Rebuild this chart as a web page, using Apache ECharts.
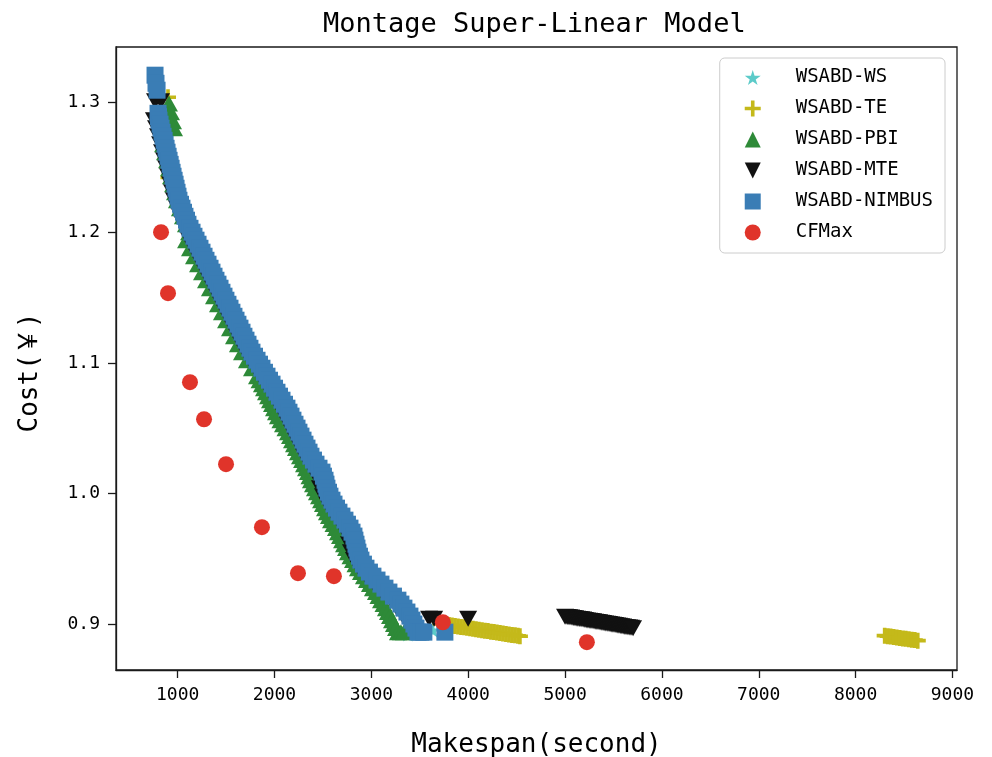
<!DOCTYPE html>
<html><head><meta charset="utf-8">
<script src="https://cdn.jsdelivr.net/npm/echarts@6/dist/echarts.min.js"></script>
<style>html,body{margin:0;padding:0;background:#fff}#c{width:992px;height:757px}</style>
</head><body><div id="c"></div>
<script>
const F = "'DejaVu Sans Mono','Noto Sans CJK SC',monospace";
const seriesNames = ['WSABD-WS','WSABD-TE','WSABD-PBI','WSABD-MTE','WSABD-NIMBUS','CFMax'];
const xTicks = [1000,2000,3000,4000,5000,6000,7000,8000,9000];
const yTicks = [0.9,1.0,1.1,1.2,1.3];

const wsData = [[787,1.3090],[870,1.2676],[993,1.2308],[1189,1.1941],[1395,1.1634],[1602,1.1328],[1819,1.1021],[2077,1.0715],[2294,1.0409],[2521,1.0102],[2727,0.9796],[2892,0.9490],[3181,0.9245],[3377,0.8923],[3635,0.8953]];

const teData = [[900,1.3036],[905,1.2422],
[3708,0.9004],[3739,0.9000],[3770,0.8996],[3801,0.8993],[3832,0.8989],[3863,0.8985],[3894,0.8982],[3925,0.8978],[3956,0.8975],[3987,0.8971],[4018,0.8968],[4049,0.8964],[4079,0.8960],[4110,0.8957],[4141,0.8953],[4172,0.8949],[4203,0.8946],[4234,0.8942],[4265,0.8939],[4296,0.8935],[4327,0.8931],[4358,0.8928],[4389,0.8924],[4420,0.8920],[4451,0.8917],[4482,0.8914],[4513,0.8910],[4534,0.8907],
[8300,0.8911],[8331,0.8907],[8362,0.8904],[8393,0.8900],[8425,0.8897],[8456,0.8893],[8487,0.8890],[8518,0.8887],[8549,0.8883],[8580,0.8880],[8611,0.8877],[8642,0.8873]];

const pbiData = [[910,1.2989],[931,1.2921],[952,1.2852],[962,1.2799],
[849,1.2676],[869,1.2615],[890,1.2553],[911,1.2492],[931,1.2431],[952,1.2370],[972,1.2308],[992,1.2247],[1023,1.2186],[1054,1.2124],[1085,1.2063],[1117,1.2002],
[1086,1.1941],[1127,1.1879],[1168,1.1818],[1210,1.1757],[1251,1.1696],[1292,1.1634],[1333,1.1573],[1375,1.1512],[1416,1.1450],[1457,1.1389],[1499,1.1328],[1540,1.1267],[1581,1.1205],[1622,1.1144],[1664,1.1083],[1715,1.1021],[1767,1.0960],
[1819,1.0899],[1845,1.0868],[1870,1.0838],[1891,1.0807],[1912,1.0776],[1933,1.0746],[1953,1.0715],[1974,1.0685],[1994,1.0654],[2015,1.0623],[2035,1.0593],[2061,1.0562],[2087,1.0531],[2113,1.0501],[2139,1.0470],[2160,1.0440],[2180,1.0409],[2201,1.0378],[2221,1.0348],[2242,1.0317],[2263,1.0286],[2284,1.0256],[2304,1.0225],[2325,1.0194],[2345,1.0164],[2361,1.0133],[2376,1.0102],[2397,1.0072],[2417,1.0041],[2438,1.0010],[2459,0.9980],[2480,0.9949],[2500,0.9919],[2521,0.9888],[2541,0.9857],[2562,0.9827],[2583,0.9796],[2609,0.9766],[2634,0.9735],[2655,0.9704],[2676,0.9674],[2697,0.9643],[2717,0.9612],[2738,0.9582],[2758,0.9551],[2784,0.9520],[2810,0.9490],[2836,0.9459],[2861,0.9428],[2892,0.9398],[2923,0.9367],[2954,0.9337],[2985,0.9306],[3016,0.9275],[3047,0.9245],[3073,0.9214],[3099,0.9183],[3125,0.9153],[3150,0.9122],[3171,0.9092],[3192,0.9061],[3213,0.9030],[3233,0.9000],[3254,0.8969],[3274,0.8938],[3305,0.8938],[3336,0.8938]];

const mteData = [[766,1.3005],[828,1.3005],
[755,1.2860],[776,1.2799],[797,1.2737],[818,1.2676],[838,1.2615],[859,1.2553],[880,1.2492],[900,1.2431],[921,1.2370],[941,1.2308],[961,1.2247],[992,1.2186],[1023,1.2124],[1054,1.2063],[1096,1.2002],
[1117,1.1941],[1158,1.1879],[1199,1.1818],[1241,1.1757],[1282,1.1696],[1323,1.1634],[1364,1.1573],[1406,1.1512],[1447,1.1450],[1488,1.1389],[1530,1.1328],[1571,1.1267],[1612,1.1205],[1653,1.1144],[1695,1.1083],[1746,1.1021],[1798,1.0960],[1850,1.0899],[1901,1.0838],[1953,1.0776],[2004,1.0715],[2056,1.0654],[2097,1.0593],[2139,1.0531],[2180,1.0470],[2221,1.0409],[2263,1.0348],[2304,1.0286],[2356,1.0225],[2418,1.0164],[2449,1.0102],[2469,1.0041],[2500,0.9980],[2541,0.9919],[2593,0.9857],[2655,0.9796],[2707,0.9735],[2748,0.9674],[2769,0.9612],[2789,0.9551],[2820,0.9490],[2872,0.9428],[2944,0.9367],[3026,0.9306],[3109,0.9245],[3202,0.9183],[3264,0.9122],[3326,0.9061],
[3596,0.9041],[3648,0.9041],[3999,0.9041],
[5000,0.9056],[5021,0.9055],[5041,0.9053],[5062,0.9050],[5083,0.9047],[5103,0.9044],[5124,0.9041],[5145,0.9039],[5165,0.9036],[5186,0.9034],[5206,0.9031],[5227,0.9028],[5248,0.9026],[5268,0.9023],[5289,0.9021],[5310,0.9018],[5330,0.9015],[5351,0.9013],[5372,0.9010],[5392,0.9008],[5413,0.9005],[5434,0.9002],[5454,0.9000],[5475,0.8997],[5495,0.8995],[5516,0.8992],[5537,0.8989],[5557,0.8987],[5578,0.8984],[5599,0.8982],[5619,0.8978],[5640,0.8976],[5661,0.8973],[5681,0.8971],[5702,0.8968]];

const nimbusData = [[766,1.3205],[776,1.3143],[787,1.3090],
[797,1.2913],[802,1.2887],[807,1.2860],[818,1.2830],[828,1.2799],[838,1.2768],[849,1.2737],[860,1.2706],[870,1.2676],[880,1.2645],[890,1.2615],[901,1.2584],[911,1.2553],[922,1.2522],[932,1.2492],[942,1.2461],[952,1.2431],[963,1.2400],[973,1.2370],[983,1.2339],[993,1.2308],[1003,1.2278],[1013,1.2247],[1029,1.2216],[1044,1.2186],[1060,1.2155],[1075,1.2124],[1091,1.2094],[1106,1.2063],[1127,1.2032],[1148,1.2002],[1168,1.1971],[1189,1.1941],[1210,1.1910],[1230,1.1879],[1251,1.1849],[1272,1.1818],[1292,1.1787],[1313,1.1757],[1334,1.1726],[1354,1.1696],[1375,1.1665],[1395,1.1634],[1416,1.1604],[1437,1.1573],[1457,1.1542],[1478,1.1512],[1498,1.1481],[1519,1.1450],[1540,1.1420],[1560,1.1389],[1581,1.1358],[1602,1.1328],[1622,1.1297],[1643,1.1267],[1664,1.1236],[1684,1.1205],[1705,1.1175],[1726,1.1144],[1746,1.1113],[1767,1.1083],[1793,1.1052],[1819,1.1021],[1845,1.0991],[1870,1.0960],[1896,1.0929],[1922,1.0899],[1948,1.0868],[1974,1.0838],[2000,1.0807],[2025,1.0776],[2051,1.0746],[2077,1.0715],[2103,1.0684],[2128,1.0654],[2149,1.0623],[2170,1.0593],[2190,1.0562],[2211,1.0531],[2232,1.0501],[2252,1.0470],[2273,1.0440],[2294,1.0409],[2314,1.0378],[2335,1.0348],[2356,1.0317],[2376,1.0286],[2402,1.0256],[2428,1.0225],[2459,1.0194],[2490,1.0164],[2505,1.0133],[2521,1.0102],[2531,1.0072],[2541,1.0041],[2557,1.0010],[2572,0.9980],[2593,0.9949],[2614,0.9919],[2640,0.9888],[2665,0.9857],[2696,0.9827],[2727,0.9796],[2753,0.9765],[2779,0.9735],[2800,0.9704],[2820,0.9674],[2830,0.9643],[2841,0.9612],[2851,0.9582],[2861,0.9551],[2877,0.9520],[2892,0.9490],[2918,0.9459],[2944,0.9428],[2980,0.9398],[3016,0.9367],[3058,0.9337],[3099,0.9306],[3140,0.9275],[3181,0.9245],[3228,0.9214],[3274,0.9183],[3305,0.9153],[3336,0.9122],[3367,0.9092],[3398,0.9061],[3419,0.9030],[3439,0.9000],[3460,0.8969],[3481,0.8938],[3511,0.8938],[3542,0.8938],[3759,0.8938]];

const cfmaxData = [[828,1.2002],[900,1.1535],[1127,1.0853],[1272,1.0569],[1499,1.0225],[1870,0.9742],[2242,0.9390],[2613,0.9367],[3738,0.9014],[5225,0.8861]];

const colors = ['#5ccbc9','#c4b91a','#2e8a38','#111111','#3a7db5','#e0342a'];
const STAR = 'path://M50,0L61,35L98,35L68,57L79,91L50,70L21,91L32,57L2,35L39,35Z';
const PLUS = 'path://M6.2,0H9.8V6.2H16V9.8H9.8V16H6.2V9.8H0V6.2H6.2Z';
const UP = 'path://M8,0L16,16L0,16Z';
const DOWN = 'path://M0,0L16,0L8,16Z';
const symbols = [STAR, PLUS, UP, DOWN, 'rect', 'circle'];
const sizes = [[16,15],16,[18,16],[18,16],17,16];
const datas = [wsData, teData, pbiData, mteData, nimbusData, cfmaxData];

const chart = echarts.init(document.getElementById('c'), null, {renderer:'canvas'});
const axisColor = '#1a1a1a';
chart.setOption({
  animation:false,
  backgroundColor:'#ffffff',
  title:{text:'Montage Super-Linear Model', left:318, top:6,
    textStyle:{fontFamily:F, fontSize:27, fontWeight:'normal', color:'#000'}},
  grid:{left:116, right:35, top:47, bottom:87, show:true, borderColor:axisColor, borderWidth:1.3,
    outerBoundsMode:'none', containLabel:false},
  legend:{orient:'vertical', right:47, top:58, padding:[10,12,11,25], itemGap:12,
    itemWidth:16, itemHeight:16, backgroundColor:'#ffffff', borderColor:'#cccccc', borderWidth:1, borderRadius:5,
    textStyle:{fontFamily:F, fontSize:19, color:'#000', padding:[0,0,0,30]},
    data: seriesNames.map((n,i)=>({name:n, icon:symbols[i]}))},
  xAxis:{type:'value', min:363, max:9047,
    name:'Makespan(second)', nameLocation:'middle', nameGap:62,
    nameTextStyle:{fontFamily:F, fontSize:26, color:'#000'},
    axisLine:{show:true, onZero:false, lineStyle:{color:axisColor, width:1.3}},
    axisTick:{show:true, length:8, customValues:xTicks, lineStyle:{color:axisColor, width:1.3}},
    axisLabel:{customValues:xTicks, margin:16, fontFamily:F, fontSize:18, color:'#000',
      formatter:v=>String(v)},
    splitLine:{show:false}},
  yAxis:{type:'value', min:0.8648, max:1.3421,
    name:'Cost(￥)', nameLocation:'middle', nameGap:73,
    nameTextStyle:{fontFamily:F, fontSize:26, color:'#000', padding:[0,28,0,0]},
    axisLine:{show:true, onZero:false, lineStyle:{color:axisColor, width:1.3}},
    axisTick:{show:true, length:8, customValues:yTicks, lineStyle:{color:axisColor, width:1.3}},
    axisLabel:{customValues:yTicks, margin:16, fontFamily:F, fontSize:18, color:'#000',
      formatter:v=>Number(v).toFixed(1)},
    splitLine:{show:false}},
  series: seriesNames.map((n,i)=>({
    name:n, type:'scatter', data:datas[i], symbol:symbols[i], symbolSize:sizes[i],
    itemStyle:{color:colors[i], opacity:1}, emphasis:{disabled:true}, silent:true, z:2
  }))
});
</script></body></html>
